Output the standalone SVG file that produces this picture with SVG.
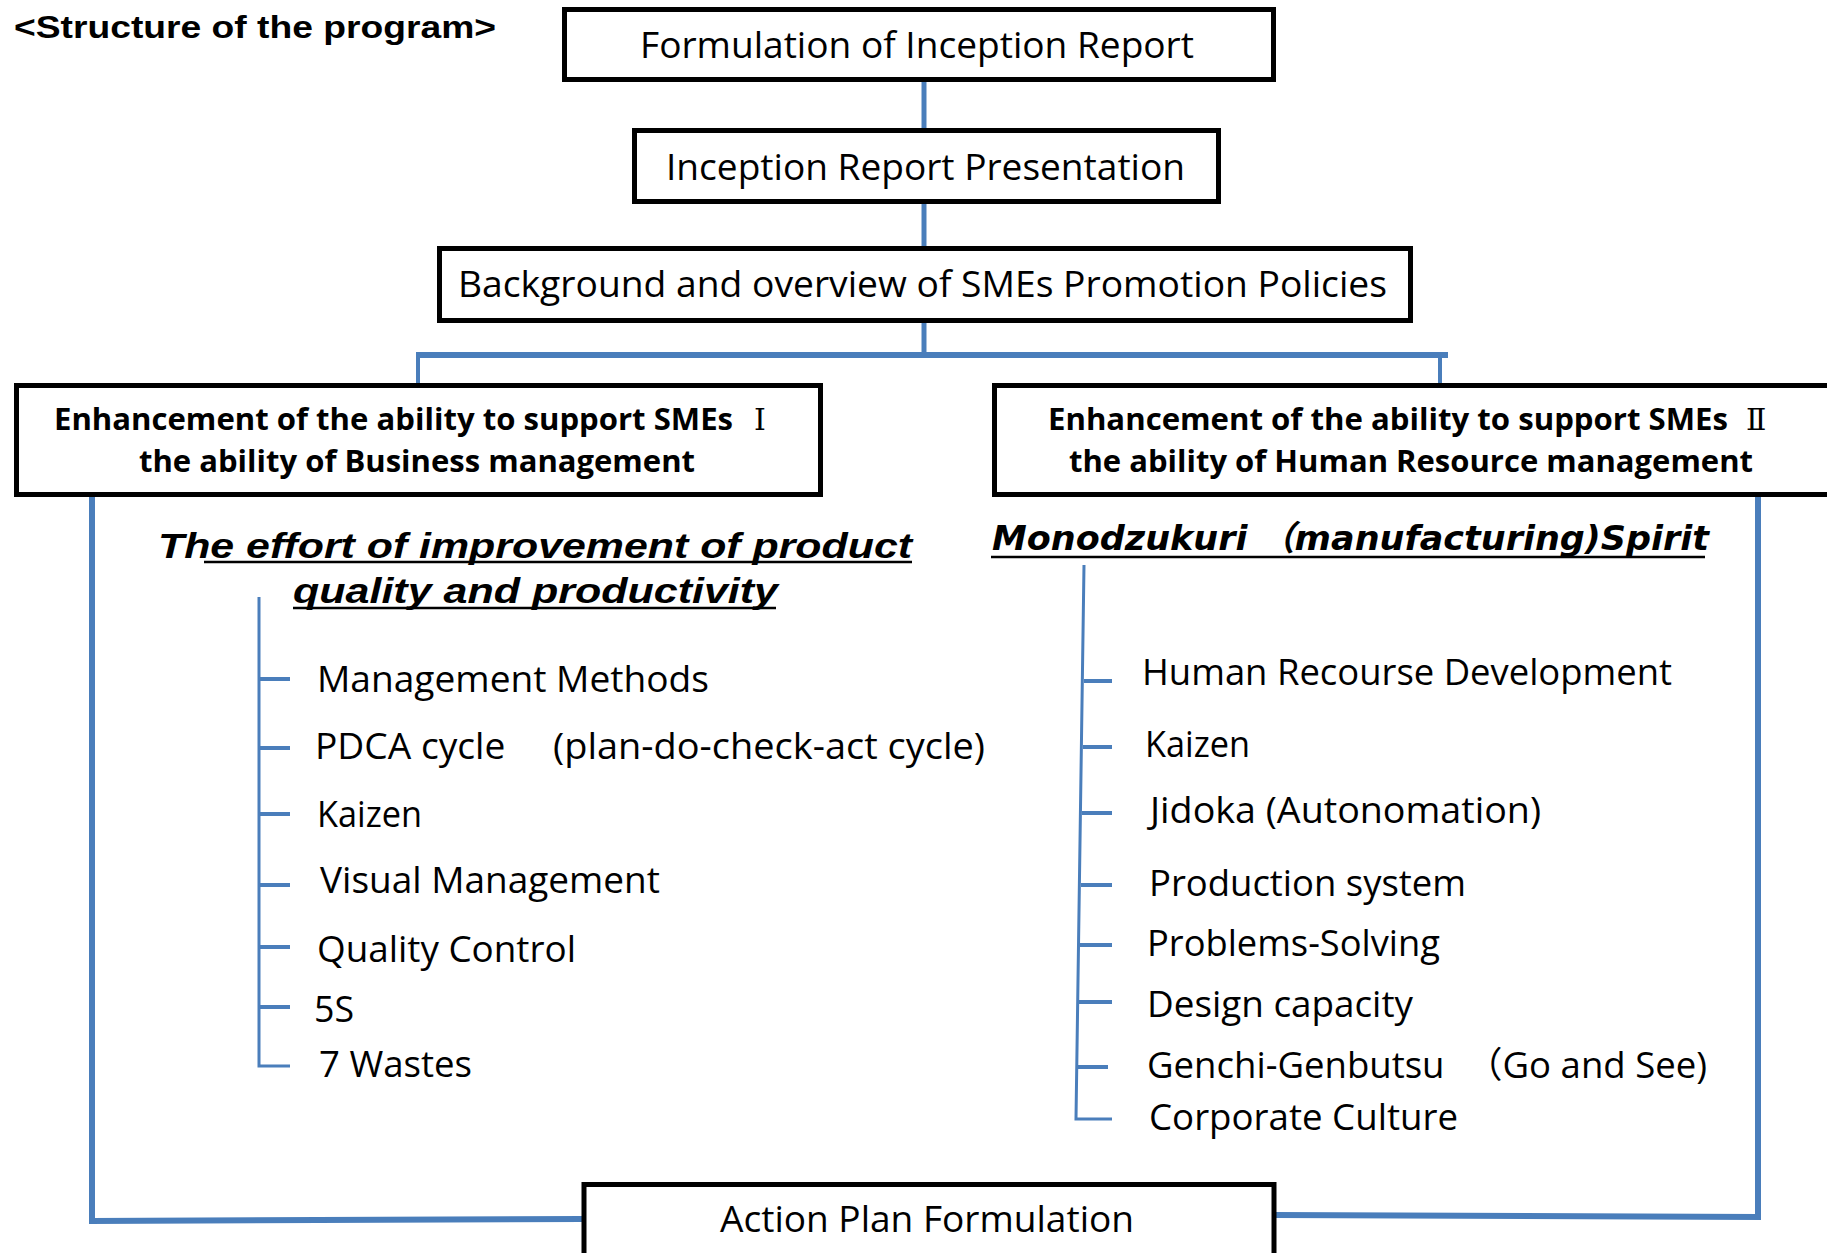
<svg xmlns="http://www.w3.org/2000/svg" width="1827" height="1253" viewBox="0 0 1827 1253">
<style>
.box{fill:#fff;stroke:#000;stroke-width:5}
.t{font-family:"Open Sans","Noto Sans","Noto Sans CJK JP",sans-serif;font-size:36px;fill:#000}
.tb{font-family:"Open Sans","Noto Sans","Noto Sans CJK JP",sans-serif;font-size:30px;font-weight:bold;fill:#000}
.rn{font-family:"DejaVu Serif","Liberation Serif","Noto Sans CJK JP",serif;font-size:30px;fill:#000}
.hd{font-family:"Liberation Sans",Arial,sans-serif;font-size:35px;font-weight:bold;font-style:italic;fill:#000}
.hd2{font-family:"DejaVu Sans","Noto Sans CJK JP",sans-serif;font-size:34px;font-weight:bold;font-style:italic;fill:#000}
.ul{stroke:#000;stroke-width:2.5}
.c{stroke:#4A7EBB;fill:none;stroke-width:5}
.cb{stroke:#4A7EBB;fill:none;stroke-width:6}
.tr{stroke:#4A7EBB;fill:none;stroke-width:3}
.tk{stroke:#4A7EBB;fill:none;stroke-width:4}
</style>
<rect width="1827" height="1253" fill="#fff"/>
<text x="14" y="38" font-family="Liberation Sans, Arial, sans-serif" font-size="31" font-weight="bold" textLength="482" lengthAdjust="spacingAndGlyphs">&lt;Structure of the program&gt;</text>

<g id="connectors">
<line class="c" x1="924" y1="82" x2="924" y2="130"/>
<line class="c" x1="924" y1="203" x2="924" y2="248"/>
<line class="c" x1="924" y1="322" x2="924" y2="355"/>
<line class="cb" x1="416" y1="355" x2="1448" y2="355"/>
<line class="tk" x1="418" y1="355" x2="418" y2="384"/>
<line class="tk" x1="1440" y1="355" x2="1440" y2="384"/>
<polyline class="cb" points="92,497 92,1221 582,1219"/>
<polyline class="cb" points="1275,1215 1758,1217 1758,497"/>
<polyline class="tr" points="259,597 259,1066 290,1066"/>
<line class="tk" x1="259" y1="679" x2="290" y2="679"/>
<line class="tk" x1="259" y1="748" x2="290" y2="748"/>
<line class="tk" x1="259" y1="814" x2="290" y2="814"/>
<line class="tk" x1="259" y1="885" x2="290" y2="885"/>
<line class="tk" x1="259" y1="947" x2="290" y2="947"/>
<line class="tk" x1="259" y1="1007" x2="290" y2="1007"/>
<polyline class="tr" points="1084,565 1076,1119 1112,1119"/>
<line class="tk" x1="1084" y1="681" x2="1112" y2="681"/>
<line class="tk" x1="1083" y1="747" x2="1112" y2="747"/>
<line class="tk" x1="1082" y1="813" x2="1112" y2="813"/>
<line class="tk" x1="1081" y1="885" x2="1112" y2="885"/>
<line class="tk" x1="1080" y1="945" x2="1112" y2="945"/>
<line class="tk" x1="1079" y1="1002" x2="1112" y2="1002"/>
<line class="tk" x1="1077" y1="1067" x2="1108" y2="1067"/>
</g>

<g id="n-formulation">
<rect class="box" x="564.5" y="9.5" width="709" height="70"/>
<text class="t" x="640" y="58" textLength="554" lengthAdjust="spacingAndGlyphs">Formulation of Inception Report</text>
</g>
<g id="n-presentation">
<rect class="box" x="634.5" y="130.5" width="584" height="71"/>
<text class="t" x="666" y="180" textLength="519" lengthAdjust="spacingAndGlyphs">Inception Report Presentation</text>
</g>
<g id="n-background">
<rect class="box" x="439.5" y="248.5" width="971" height="72"/>
<text class="t" x="458" y="297" textLength="929" lengthAdjust="spacingAndGlyphs">Background and overview of SMEs Promotion Policies</text>
</g>
<g id="n-support1">
<rect class="box" x="16.5" y="385.5" width="804" height="109"/>
<text class="tb" x="54" y="430" textLength="679" lengthAdjust="spacingAndGlyphs">Enhancement of the ability to support SMEs</text>
<text class="rn" x="754" y="430">Ⅰ</text>
<text class="tb" x="139" y="472" textLength="556" lengthAdjust="spacingAndGlyphs">the ability of Business management</text>
</g>
<g id="n-support2">
<rect class="box" x="994.5" y="385.5" width="900" height="109"/>
<text class="tb" x="1048" y="430" textLength="680" lengthAdjust="spacingAndGlyphs">Enhancement of the ability to support SMEs</text>
<text class="rn" x="1746" y="430">Ⅱ</text>
<text class="tb" x="1069" y="472" textLength="684" lengthAdjust="spacingAndGlyphs">the ability of Human Resource management</text>
</g>
<g id="n-action">
<rect class="box" x="584" y="1184.5" width="690" height="100"/>
<text class="t" x="720" y="1232" textLength="414" lengthAdjust="spacingAndGlyphs">Action Plan Formulation</text>
</g>

<g id="h-left">
<text class="hd" x="158" y="558" textLength="754" lengthAdjust="spacingAndGlyphs">The effort of improvement of product</text>
<line class="ul" x1="204" y1="562" x2="912" y2="562"/>
<text class="hd" x="293" y="603" textLength="485" lengthAdjust="spacingAndGlyphs">quality and productivity</text>
<line class="ul" x1="293" y1="608" x2="776" y2="608"/>
</g>
<g id="h-right">
<text class="hd2" x="992" y="550" textLength="717" lengthAdjust="spacingAndGlyphs">Monodzukuri （manufacturing)Spirit</text>
<line class="ul" x1="991" y1="557" x2="1705" y2="557"/>
</g>

<g id="list-left">
<text class="t" x="317" y="692" textLength="392" lengthAdjust="spacingAndGlyphs">Management Methods</text>
<text class="t" y="759"><tspan x="315" textLength="200" lengthAdjust="spacingAndGlyphs">PDCA cycle </tspan><tspan x="553" textLength="432" lengthAdjust="spacingAndGlyphs">(plan-do-check-act cycle)</tspan></text>
<text class="t" x="317" y="827" textLength="105" lengthAdjust="spacingAndGlyphs">Kaizen</text>
<text class="t" x="320" y="893" textLength="340" lengthAdjust="spacingAndGlyphs">Visual Management</text>
<text class="t" x="317" y="962" textLength="259" lengthAdjust="spacingAndGlyphs">Quality Control</text>
<text class="t" x="314" y="1022" textLength="40" lengthAdjust="spacingAndGlyphs">5S</text>
<text class="t" x="319" y="1077" textLength="153" lengthAdjust="spacingAndGlyphs">7 Wastes</text>
</g>

<g id="list-right">
<text class="t" x="1142" y="685" textLength="530" lengthAdjust="spacingAndGlyphs">Human Recourse Development</text>
<text class="t" x="1145" y="757" textLength="105" lengthAdjust="spacingAndGlyphs">Kaizen</text>
<text class="t" x="1150" y="823" textLength="391" lengthAdjust="spacingAndGlyphs">Jidoka (Autonomation)</text>
<text class="t" x="1149" y="896" textLength="317" lengthAdjust="spacingAndGlyphs">Production system</text>
<text class="t" x="1147" y="956" textLength="293" lengthAdjust="spacingAndGlyphs">Problems-Solving</text>
<text class="t" x="1147" y="1017" textLength="266" lengthAdjust="spacingAndGlyphs">Design capacity</text>
<text class="t" y="1078"><tspan x="1147" textLength="307" lengthAdjust="spacingAndGlyphs">Genchi-Genbutsu </tspan><tspan x="1466" textLength="241" lengthAdjust="spacingAndGlyphs">（Go and See)</tspan></text>
<text class="t" x="1149" y="1130" textLength="309" lengthAdjust="spacingAndGlyphs">Corporate Culture</text>
</g>
</svg>
